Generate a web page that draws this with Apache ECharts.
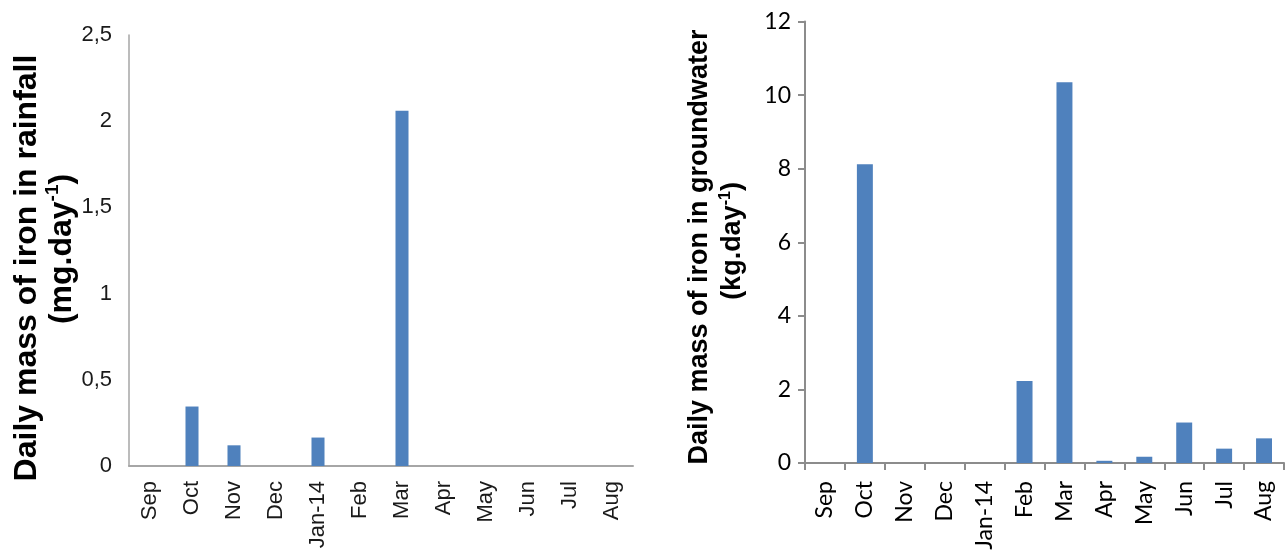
<!DOCTYPE html>
<html>
<head>
<meta charset="utf-8">
<script src="https://cdn.jsdelivr.net/npm/echarts@6/dist/echarts.min.js"></script>
<style>
  html, body { margin: 0; padding: 0; background: #fff; }
  #chart { width: 1287px; height: 552px; }
</style>
</head>
<body>
<div id="chart"></div>
<script>
// Monthly categories shared by both panels
const months = ['Sep', 'Oct', 'Nov', 'Dec', 'Jan-14', 'Feb', 'Mar', 'Apr', 'May', 'Jun', 'Jul', 'Aug'];

// Daily mass of iron in rainfall (mg/day)
const rainfallIron = [0, 0.345, 0.12, 0, 0.165, 0, 2.06, 0, 0, 0, 0, 0];

// Daily mass of iron in groundwater (kg/day)
const groundwaterIron = [0, 8.12, 0, 0, 0, 2.23, 10.35, 0.06, 0.17, 1.1, 0.39, 0.67];

// Axis ranges
const rainfallAxis = { min: 0, max: 2.5, step: 0.5 };
const groundwaterAxis = { min: 0, max: 12, step: 2 };

const ARIAL = "'Liberation Sans', Arial, sans-serif";
const CALIBRI = "Lato, 'Open Sans', sans-serif";
const BAR = '#4F81BD';

const chart = echarts.init(document.getElementById('chart'), null, { renderer: 'canvas' });

function titleText(x, y, line, unit, size, supSize) {
  return {
    type: 'text',
    x: x, y: y,
    rotation: Math.PI / 2,
    style: {
      text: line === null ? '{t|' + unit[0] + '}{s|' + unit[1] + '}{t|' + unit[2] + '}' : '{t|' + line + '}',
      align: 'center',
      verticalAlign: 'middle',
      rich: {
        t: { fontFamily: ARIAL, fontWeight: 'bold', fontSize: size, fill: '#000', lineHeight: size * 1.15 },
        s: { fontFamily: ARIAL, fontWeight: 'bold', fontSize: supSize, fill: '#000', verticalAlign: 'top', lineHeight: size * 1.15 }
      }
    }
  };
}

chart.setOption({
  animation: false,
  backgroundColor: '#fff',
  grid: [
    { left: 129, top: 35, width: 504, height: 431, outerBoundsMode: 'none', containLabel: false },
    { left: 805, top: 21.5, width: 479, height: 441.5, outerBoundsMode: 'none', containLabel: false }
  ],
  xAxis: [
    {
      type: 'category', gridIndex: 0, data: months,
      axisLine: { lineStyle: { color: '#A6A6A6', width: 2 } },
      axisTick: { show: false },
      axisLabel: { rotate: 90, fontFamily: ARIAL, fontSize: 22, color: '#1a1a1a', margin: 15, interval: 0 }
    },
    {
      type: 'category', gridIndex: 1, data: months,
      axisLine: { lineStyle: { color: '#8C8C8C', width: 2 } },
      axisTick: { show: true, length: 7, lineStyle: { color: '#8C8C8C', width: 2 } },
      axisLabel: { rotate: 90, fontFamily: CALIBRI, fontSize: 23, color: '#000', margin: 18, interval: 0 }
    }
  ],
  yAxis: [
    {
      type: 'value', gridIndex: 0,
      min: rainfallAxis.min, max: rainfallAxis.max, interval: rainfallAxis.step,
      axisLine: { show: true, lineStyle: { color: '#A6A6A6', width: 1.5 } },
      axisTick: { show: false },
      splitLine: { show: false },
      axisLabel: {
        fontFamily: ARIAL, fontSize: 22, color: '#1a1a1a', margin: 17,
        formatter: v => String(v).replace('.', ',')
      }
    },
    {
      type: 'value', gridIndex: 1,
      min: groundwaterAxis.min, max: groundwaterAxis.max, interval: groundwaterAxis.step,
      axisLine: { show: true, lineStyle: { color: '#8C8C8C', width: 2 } },
      axisTick: { show: true, length: 7, lineStyle: { color: '#8C8C8C', width: 2 } },
      splitLine: { show: false },
      axisLabel: { fontFamily: CALIBRI, fontSize: 23, color: '#000', margin: 14 }
    }
  ],
  series: [
    {
      type: 'bar', xAxisIndex: 0, yAxisIndex: 0, data: rainfallIron,
      barWidth: '31%', itemStyle: { color: BAR }
    },
    {
      type: 'bar', xAxisIndex: 1, yAxisIndex: 1, data: groundwaterIron,
      barWidth: '40%', itemStyle: { color: BAR }
    }
  ],
  graphic: [
    titleText(27, 268, 'Daily mass of iron in rainfall', null, 32, 19),
    titleText(62, 249, null, ['(mg.day', '-1', ')'], 32, 19),
    titleText(700, 247, 'Daily mass of iron in groundwater', null, 27, 16),
    titleText(733, 241, null, ['(kg.day', '-1', ')'], 27, 16)
  ]
});
</script>
</body>
</html>
